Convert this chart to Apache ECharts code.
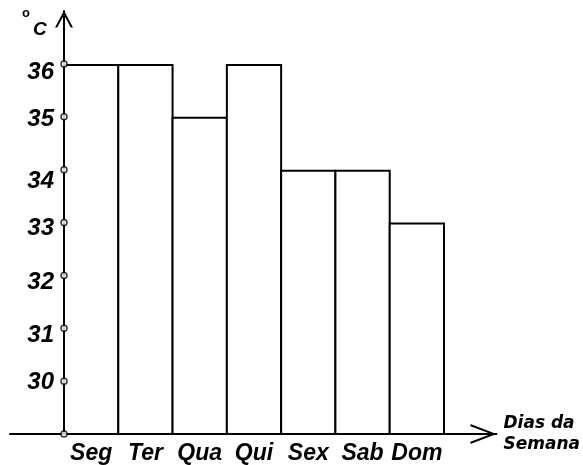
<!DOCTYPE html>
<html>
<head>
<meta charset="utf-8">
<script src="https://cdn.jsdelivr.net/npm/echarts@6/dist/echarts.min.js"></script>
<style>
html,body{margin:0;padding:0;background:#fff;}
#chart{width:583px;height:465px;}
</style>
</head>
<body>
<div id="chart"></div>
<script>
// ---- data ----
var days = ['Seg', 'Ter', 'Qua', 'Qui', 'Sex', 'Sab', 'Dom'];
var temps = [36, 36, 35, 36, 34, 34, 33];
var yTicks = [29, 30, 31, 32, 33, 34, 35, 36];
var yLabels = [30, 31, 32, 33, 34, 35, 36];
var yUnit = 'C';
var xName = 'Dias da\nSemana';

// ---- style ----
var FONT = '"Liberation Sans", Arial, sans-serif';
var BORDER = 2;
var labelDrop = {36: 8, 35: 3, 34: 12, 33: 6, 32: 7, 31: 7, 30: 1};
var rich = {};
yLabels.forEach(function (v) {
  rich['s' + v] = {
    fontSize: 24, fontWeight: 'bold', fontStyle: 'italic', fontFamily: FONT, color: '#000',
    padding: [2 * labelDrop[v], 0, 0, 0]
  };
});
var chevronUp = 'path://M0,17 L9,0 L18,17 L15.8,17 L9,4.6 L2.2,17 Z';
var chevronRight = 'path://M0,26 L10,0 L20,26 L17.8,26 L10,5.4 L2.2,26 Z';

var chart = echarts.init(document.getElementById('chart'), null, {renderer: 'canvas'});
chart.setOption({
  animation: false,
  backgroundColor: '#fff',
  title: [
    {text: 'o', left: 22, top: 7, padding: 0,
     textStyle: {fontSize: 13, fontWeight: 'bold', fontFamily: FONT, color: '#000'}},
    {text: yUnit, left: 33, top: 20, padding: 0,
     textStyle: {fontSize: 19, fontWeight: 'bold', fontStyle: 'italic', fontFamily: FONT, color: '#000'}}
  ],
  grid: [
    {left: 64, right: 139, top: 11, bottom: 31},
    {left: 10, right: 85, top: 11, bottom: 31}
  ],
  xAxis: [
    {type: 'category', gridIndex: 0, data: days,
     axisLine: {show: false}, axisTick: {show: false},
     axisLabel: {interval: 0, fontSize: 23, fontWeight: 'bold', fontStyle: 'italic', fontFamily: FONT, color: '#000', margin: 8}},
    {type: 'value', gridIndex: 0, min: 0, max: 1, show: false},
    {type: 'value', gridIndex: 1, min: 0, max: 1, position: 'bottom',
     axisLine: {show: true, onZero: false, lineStyle: {color: '#000', width: 2},
                symbol: ['none', chevronRight], symbolSize: [20, 26], symbolOffset: [0, -13]},
     axisTick: {show: false}, axisLabel: {show: false}, splitLine: {show: false},
     name: xName, nameLocation: 'end', nameGap: 7,
     nameTextStyle: {fontSize: 17, fontWeight: 'bold', fontStyle: 'italic', fontFamily: '"DejaVu Sans", sans-serif',
                     color: '#000', align: 'left', verticalAlign: 'middle', lineHeight: 21, padding: [16, 0, 0, 0]}}
  ],
  yAxis: [
    {type: 'value', gridIndex: 0, min: 29, max: 37, interval: 1, position: 'left',
     axisLine: {show: true, onZero: false, lineStyle: {color: '#000', width: 2},
                symbol: ['none', chevronUp], symbolSize: [18, 17], symbolOffset: [0, -8]},
     axisTick: {show: false}, splitLine: {show: false},
     axisLabel: {margin: 10, rich: rich,
                 formatter: function (v) { return yLabels.indexOf(v) >= 0 ? '{s' + v + '|' + v + '}' : ''; }}},
    {type: 'value', gridIndex: 1, min: 0, max: 1, show: false}
  ],
  series: [
    {type: 'bar', xAxisIndex: 0, yAxisIndex: 0, data: temps,
     barWidth: '100%',
     itemStyle: {color: '#fff', borderColor: '#000', borderWidth: BORDER}},
    {type: 'scatter', xAxisIndex: 1, yAxisIndex: 0, z: 10, clip: false,
     data: yTicks.map(function (v) { return [0, v]; }),
     symbol: 'circle', symbolSize: 6,
     itemStyle: {color: '#fff', borderColor: '#000', borderWidth: 1.5}}
  ]
});
// ECharts insets a bar's border inside its rect; widen by the border so adjacent edges coincide
var band = chart.getModel().getComponent('xAxis', 0).axis.getBandWidth();
chart.setOption({series: [{barWidth: band + BORDER}, {}]});
</script>
</body>
</html>
